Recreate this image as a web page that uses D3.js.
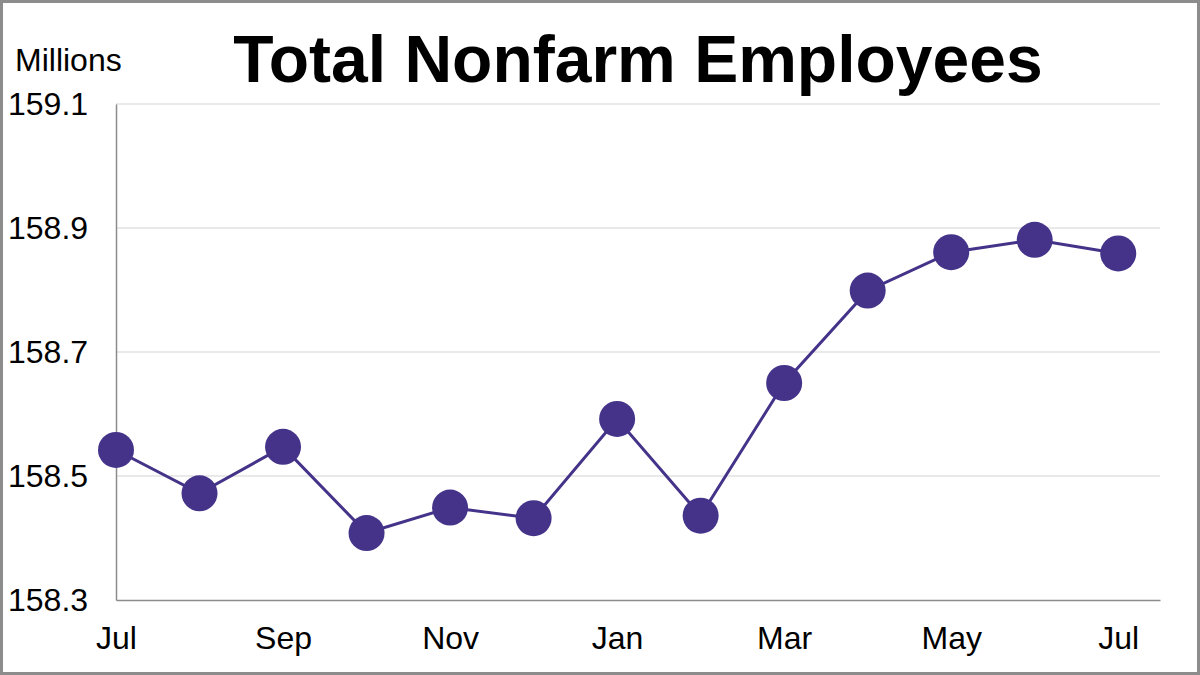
<!DOCTYPE html>
<html>
<head>
<meta charset="utf-8">
<script src="https://cdn.jsdelivr.net/npm/d3@7"></script>
<style>
  html, body { margin: 0; padding: 0; background: #fff; }
  svg { display: block; font-family: "Liberation Sans", Arial, sans-serif; }
</style>
</head>
<body>
<div id="chart"></div>
<script>
// Total nonfarm employees, millions (monthly, Jul to Jul)
const months = ["Jul", "Aug", "Sep", "Oct", "Nov", "Dec", "Jan", "Feb", "Mar", "Apr", "May", "Jun", "Jul"];
const employees = [158.542, 158.472, 158.547, 158.408, 158.449, 158.432, 158.592, 158.436, 158.650, 158.799, 158.861, 158.881, 158.859];
const yTicks = [158.3, 158.5, 158.7, 158.9, 159.1];
const xLabelEvery = 2;

const W = 1200, H = 675;
const plot = { left: 116, right: 1160, top: 104, bottom: 600 };
const purple = "#45338a";

const svg = d3.select("#chart").append("svg")
  .attr("width", W)
  .attr("height", H);

// outer frame
svg.append("rect")
  .attr("x", 1.5).attr("y", 1.5)
  .attr("width", W - 3).attr("height", H - 3)
  .attr("fill", "#fff")
  .attr("stroke", "#8c8c8c")
  .attr("stroke-width", 3);

const x = d3.scaleLinear()
  .domain([0, months.length - 0.5])
  .range([plot.left, plot.right]);

const y = d3.scaleLinear()
  .domain([158.3, 159.1])
  .range([plot.bottom, plot.top]);

// gridlines
svg.append("g")
  .selectAll("line")
  .data(yTicks.slice(1))
  .join("line")
  .attr("x1", plot.left).attr("x2", plot.right)
  .attr("y1", d => y(d)).attr("y2", d => y(d))
  .attr("stroke", "#d4d4d4")
  .attr("stroke-width", 1.2);

// y axis
const yAxis = d3.axisLeft(y).tickValues(yTicks).tickSize(0).tickFormat(d3.format(".1f"));
const yG = svg.append("g")
  .attr("transform", `translate(${plot.left},0)`)
  .call(yAxis);
yG.select(".domain").attr("stroke", "#8c8c8c").attr("stroke-width", 1.5);
yG.selectAll("text")
  .attr("x", -108)
  .attr("text-anchor", "start")
  .attr("font-size", 32)
  .attr("font-family", "'Liberation Sans', Arial, sans-serif")
  .attr("fill", "#000");

// x axis
const xAxis = d3.axisBottom(x)
  .tickValues(d3.range(0, months.length, xLabelEvery))
  .tickSize(0)
  .tickFormat(i => months[i]);
const xG = svg.append("g")
  .attr("transform", `translate(0,${plot.bottom})`)
  .call(xAxis);
xG.select(".domain").attr("stroke", "#8c8c8c").attr("stroke-width", 1.5);
xG.selectAll("text")
  .attr("y", 26)
  .attr("dy", "0.71em")
  .attr("font-size", 32)
  .attr("font-family", "'Liberation Sans', Arial, sans-serif")
  .attr("fill", "#000");

// line
const line = d3.line()
  .x((d, i) => x(i))
  .y(d => y(d));

svg.append("path")
  .datum(employees)
  .attr("fill", "none")
  .attr("stroke", purple)
  .attr("stroke-width", 3)
  .attr("d", line);

svg.append("g")
  .selectAll("circle")
  .data(employees)
  .join("circle")
  .attr("cx", (d, i) => x(i))
  .attr("cy", d => y(d))
  .attr("r", 18)
  .attr("fill", purple);

// titles
svg.append("text")
  .attr("x", 638)
  .attr("y", 82)
  .attr("text-anchor", "middle")
  .attr("font-size", 66)
  .attr("font-weight", "bold")
  .text("Total Nonfarm Employees");

svg.append("text")
  .attr("x", 15)
  .attr("y", 71)
  .attr("font-size", 32)
  .text("Millions");
</script>
</body>
</html>
